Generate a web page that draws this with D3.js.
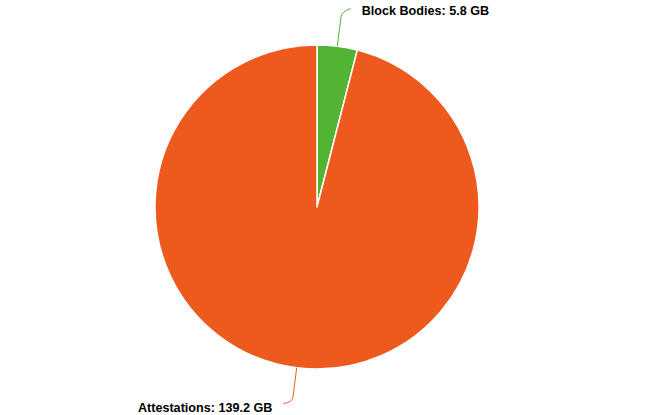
<!DOCTYPE html>
<html><head><meta charset="utf-8">
<script src="https://cdn.jsdelivr.net/npm/d3@7"></script>
<style>body{margin:0;background:#fff}svg{display:block}</style>
</head><body>
<svg id="c" width="658" height="415"></svg>
<script>
const categories = ["Block Bodies", "Attestations"];
const values = [5.8, 139.2];
const colors = ["#52B335", "#EE5A1E"];
const unit = "GB";

const W = 658, H = 415, cx = 317, cy = 207, R = 162;
const svg = d3.select("#c");
const g = svg.append("g").attr("transform", `translate(${cx},${cy})`);

const data = categories.map((c, i) => ({name: c, value: values[i], color: colors[i]}));
const pie = d3.pie().value(d => d.value).sort(null);
const arcs = pie(data);
const arc = d3.arc().innerRadius(0).outerRadius(R);

g.selectAll("path.slice").data(arcs).enter().append("path")
  .attr("class", "slice")
  .attr("d", arc)
  .attr("fill", d => d.data.color)
  .attr("stroke", "#fff").attr("stroke-width", 1.5).attr("stroke-linejoin", "round");

const len1 = 35, len2 = 9, gap = 11;
arcs.forEach(a => {
  const mid = (a.startAngle + a.endAngle) / 2;
  const s = Math.sin(mid), c = -Math.cos(mid);
  const p1 = [R * s, R * c];
  const p2 = [(R + len1) * s, (R + len1) * c];
  const dir = s >= 0 ? 1 : -1;
  const p3 = [p2[0] + dir * len2, p2[1] - (c < 0 ? 3 : -1)];
  const pm = [p1[0] + (p2[0] - p1[0]) * 0.85, p1[1] + (p2[1] - p1[1]) * 0.85];
  g.append("path")
    .attr("d", `M${p1[0]},${p1[1]}L${pm[0]},${pm[1]}Q${p2[0]},${p2[1]} ${p3[0]},${p3[1]}`)
    .attr("fill", "none").attr("stroke", a.data.color).attr("stroke-width", 1);
  const ty = p3[1] + (c < 0 ? 2.5 : 4.5);
  g.append("text")
    .attr("x", p3[0] + dir * gap)
    .attr("y", ty)
    .attr("dy", "0.35em")
    .attr("text-anchor", dir > 0 ? "start" : "end")
    .attr("font-family", "Liberation Sans, Arial, sans-serif")
    .attr("font-size", 12.6).attr("font-weight", "bold").attr("fill", "#000")
    .text(`${a.data.name}: ${a.data.value} ${unit}`);
});
</script>
</body></html>
